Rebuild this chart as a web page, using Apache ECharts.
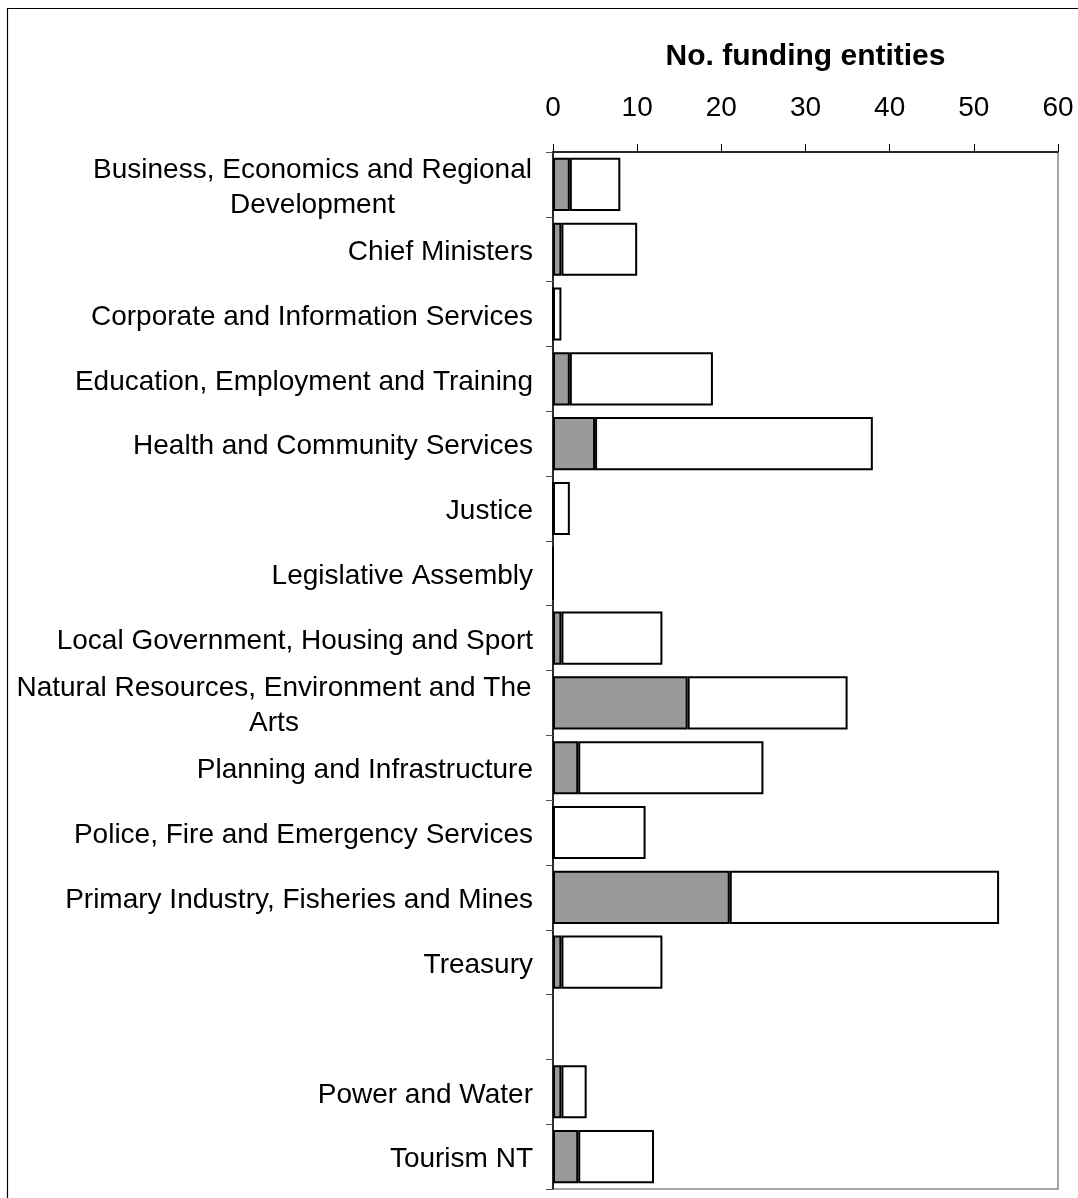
<!DOCTYPE html>
<html>
<head>
<meta charset="utf-8">
<script src="https://cdn.jsdelivr.net/npm/echarts@6/dist/echarts.min.js"></script>
<style>
html,body{margin:0;padding:0;background:#fff;}
#chart{width:1078px;height:1198px;}
</style>
</head>
<body>
<div id="chart"></div>
<script>
var categories = [
  'Business, Economics and Regional\nDevelopment',
  'Chief Ministers',
  'Corporate and Information Services',
  'Education, Employment and Training',
  'Health and Community Services',
  'Justice',
  'Legislative Assembly',
  'Local Government, Housing and Sport',
  'Natural Resources, Environment and The\nArts',
  'Planning and Infrastructure',
  'Police, Fire and Emergency Services',
  'Primary Industry, Fisheries and Mines',
  'Treasury',
  '',
  'Power and Water',
  'Tourism NT'
];
var grayValues  = [2, 1, 0, 2, 5, 0, 0, 1, 16, 3, 0, 21, 1, null, 1, 3];
var whiteValues = [6, 9, 1, 17, 33, 2, 0, 12, 19, 22, 11, 32, 12, null, 3, 9];
var xTicks = { min: 0, max: 60, interval: 10 };
var axisTitle = 'No. funding entities';

var FONT = "'Liberation Sans', Arial, sans-serif";
var FS = 28;
var ctx = document.createElement('canvas').getContext('2d');
ctx.font = FS + 'px ' + FONT;

var rich = {};
var labelMap = {};
categories.forEach(function (c, i) {
  if (c.indexOf('\n') >= 0) {
    var lines = c.split('\n');
    var w = 0;
    lines.forEach(function (l) { w = Math.max(w, ctx.measureText(l).width); });
    var key = 'w' + i;
    rich[key] = { width: Math.ceil(w) + 2, align: 'center', fontSize: FS, fontFamily: FONT, color: '#000', lineHeight: 35 };
    labelMap[c] = lines.map(function (l) { return '{' + key + '|' + l + '}'; }).join('\n');
  }
});

var chart = echarts.init(document.getElementById('chart'));
chart.setOption({
  animation: false,
  backgroundColor: '#fff',
  graphic: [{
    type: 'rect',
    shape: { x: 7.5, y: 8.5, width: 1300, height: 1400 },
    style: { fill: 'none', stroke: '#000', lineWidth: 1.2 },
    silent: true
  }],
  grid: {
    left: 553, right: 20, top: 152, bottom: 9,
    show: true, borderColor: '#888', borderWidth: 1.5, backgroundColor: 'transparent'
  },
  xAxis: {
    type: 'value',
    position: 'top',
    min: xTicks.min, max: xTicks.max, interval: xTicks.interval,
    name: axisTitle,
    nameLocation: 'middle',
    nameGap: 80,
    nameTextStyle: { fontSize: 30, fontWeight: 'bold', fontFamily: FONT, color: '#000' },
    axisLine: { show: true, lineStyle: { color: '#000', width: 1.5 } },
    axisTick: { show: true, inside: false, length: 8, lineStyle: { color: '#000', width: 1 } },
    axisLabel: { fontSize: FS, fontFamily: FONT, color: '#000', margin: 30 },
    splitLine: { show: false }
  },
  yAxis: {
    type: 'category',
    inverse: true,
    data: categories,
    axisLine: { show: true, lineStyle: { color: '#000', width: 1.5 } },
    axisTick: { show: true, inside: false, length: 7, lineStyle: { color: '#555', width: 1 } },
    axisLabel: {
      fontSize: FS, fontFamily: FONT, color: '#000', margin: 20, interval: 0,
      lineHeight: 35,
      padding: [6, 0, 0, 0],
      formatter: function (v) { return labelMap[v] || v; },
      rich: rich
    }
  },
  series: [{
    type: 'bar',
    stack: 'total',
    data: grayValues,
    barCategoryGap: '18%',
    itemStyle: { color: '#999999', borderColor: '#000', borderWidth: 2 }
  }, {
    type: 'bar',
    stack: 'total',
    data: whiteValues,
    barCategoryGap: '18%',
    itemStyle: { color: '#ffffff', borderColor: '#000', borderWidth: 2 }
  }]
});
</script>
</body>
</html>
